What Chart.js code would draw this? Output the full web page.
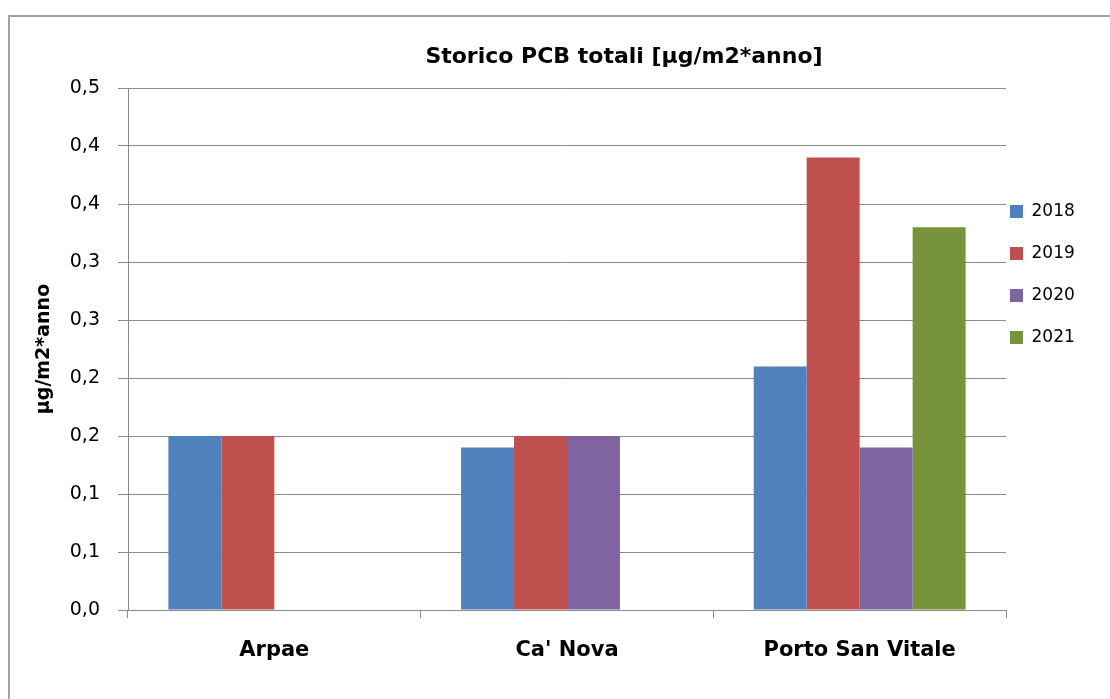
<!DOCTYPE html>
<html>
<head>
<meta charset="utf-8">
<script src="https://cdn.jsdelivr.net/npm/chart.js@4/dist/chart.umd.min.js"></script>
<style>
  html, body { margin: 0; padding: 0; background: #ffffff; overflow: hidden; }
  #wrap { position: relative; width: 1110px; height: 699px; overflow: hidden; }
  #frameTop { position: absolute; left: 8px; top: 15px; width: 1102px; height: 2px; background: #a3a3a3; }
  #frameLeft { position: absolute; left: 8px; top: 15px; width: 2px; height: 684px; background: #a3a3a3; }
  canvas { position: absolute; left: 0; top: 0; }
</style>
</head>
<body>
<div id="wrap">
  <div id="frameTop"></div>
  <div id="frameLeft"></div>
  <canvas id="c" width="1110" height="699"></canvas>
</div>
<script>
// ---- data ----
const categories = ['Arpae', "Ca' Nova", 'Porto San Vitale'];
const seriesNames = ['2018', '2019', '2020', '2021'];
const values2018 = [0.15, 0.14, 0.21];
const values2019 = [0.15, 0.15, 0.39];
const values2020 = [null, 0.15, 0.14];
const values2021 = [null, null, 0.33];
const yTickLabels = ['0,0', '0,1', '0,1', '0,2', '0,2', '0,3', '0,3', '0,4', '0,4', '0,5'];
const chartTitle = 'Storico PCB totali [\u00b5g/m2*anno]';
const yAxisTitle = '\u00b5g/m2*anno';

const seriesColors = ['#4F81BD', '#C0504D', '#8064A2', '#77933C'];
const seriesValues = [values2018, values2019, values2020, values2021];

const FONT = "'DejaVu Sans', 'Liberation Sans', sans-serif";
const GRID = '#8a8a8a';

const tweakPlugin = {
  id: 'tweak',
  afterLayout(chart) {
    const t = chart.titleBlock;
    if (t) { t.left = 224; t.right = 1024; t.width = 800; }
    const lg = chart.legend;
    if (lg) { lg.left = 985; lg.top = 178; }
  }
};

new Chart(document.getElementById('c'), {
  type: 'bar',
  data: {
    labels: categories,
    datasets: seriesNames.map((name, i) => ({
      label: name,
      data: seriesValues[i],
      backgroundColor: seriesColors[i],
      borderWidth: 0,
      categoryPercentage: 0.724,
      barPercentage: 1.0
    }))
  },
  options: {
    responsive: false,
    animation: false,
    layout: { padding: { left: 0, right: 14, top: 0, bottom: 0 } },
    plugins: {
      tooltip: { enabled: false },
      title: {
        display: true,
        text: chartTitle,
        color: '#000000',
        font: { family: FONT, size: 22, weight: 'bold' },
        padding: { top: 44, bottom: 17.6 }
      },
      legend: {
        display: true,
        position: 'right',
        align: 'start',
        maxWidth: 90,
        labels: {
          color: '#000000',
          font: { family: FONT, size: 17 },
          boxWidth: 13,
          boxHeight: 13,
          padding: 25
        }
      }
    },
    scales: {
      x: {
        grid: { display: true, drawOnChartArea: false, drawTicks: true, tickLength: 8, color: GRID, offset: true },
        border: { display: true, color: GRID, width: 1 },
        ticks: { color: '#000000', font: { family: FONT, size: 21, weight: 'bold' }, padding: 20, maxRotation: 0 },
        afterFit(scale) { scale.height = 89; }
      },
      y: {
        min: 0,
        max: 0.45,
        grid: { color: GRID, tickLength: 10, drawTicks: true },
        border: { display: true, color: GRID, width: 1 },
        ticks: {
          stepSize: 0.05,
          color: '#000000',
          font: { family: FONT, size: 19 },
          padding: 18,
          callback: (v, i) => yTickLabels[i]
        },
        title: {
          display: true,
          text: yAxisTitle,
          color: '#000000',
          font: { family: FONT, size: 19, weight: 'bold' },
          padding: { top: 33, bottom: 0 }
        },
        afterFit(scale) { scale.width = 128; }
      }
    }
  },
  plugins: [tweakPlugin]
});
</script>
</body>
</html>
